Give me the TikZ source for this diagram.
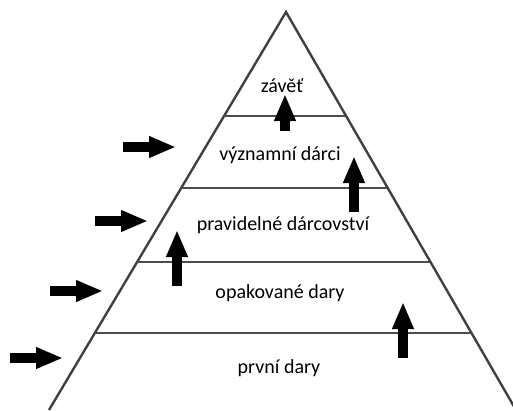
\documentclass[tikz,border=0pt]{standalone}
\usepackage{fontspec}
\setmainfont{Carlito}
\usetikzlibrary{arrows.meta,calc,positioning}

\tikzset{
    edgeline/.style   = {draw=black!75, line width=2.4pt},
    levelline/.style  = {draw=black!70, line width=2pt},
    blockarrow/.style = {draw=black, line width=10pt, -{Triangle[length=27pt,width=20pt]}},
    level/.style      = {font=\fontsize{20}{24}\selectfont, inner sep=0pt}
}

\begin{document}
\begin{tikzpicture}[x=1pt, y=-1pt]
    \useasboundingbox (0,0) rectangle (513,410);

    \coordinate (apex)  at (286,12);
    \coordinate (left)  at (49,410);
    \coordinate (right) at (516,410);

    \draw[edgeline] (left) -- (apex) -- (right);

    % levels
    \foreach \t/\name in {0.262/a, 0.441/b, 0.628/c, 0.806/d} {
        \coordinate (l\name) at ($(apex)!\t!(left)$);
        \coordinate (r\name) at ($(apex)!\t!(right)$);
        \draw[levelline] (l\name) -- (r\name);
    }

    \node[level] (zavet)       at (282,86)  {závěť};
    \node[level] (vyznamni)    at (280,155) {významní dárci};
    \node[level] (pravidelne)  at (283,225) {pravidelné dárcovství};
    \node[level] (opakovane)   at (280,293) {opakované dary};
    \node[level] (prvni)       at (279,368) {první dary};

    % arrows up
    \coordinate (ua1) at (285,131); \coordinate (ub1) at (285,94);
    \coordinate (ua2) at (354,212); \coordinate (ub2) at (354,156);
    \coordinate (ua3) at (177,286); \coordinate (ub3) at (177,230);
    \coordinate (ua4) at (403,358); \coordinate (ub4) at (403,302);
    \foreach \i in {1,...,4}
        \draw[blockarrow] (ua\i) -- (ub\i);

    % arrows in from the left
    \coordinate (sa1) at (123,147); \coordinate (sb1) at (176,147);
    \coordinate (sa2) at (95,221);  \coordinate (sb2) at (148,221);
    \coordinate (sa3) at (50,291);  \coordinate (sb3) at (103,291);
    \coordinate (sa4) at (10,358);  \coordinate (sb4) at (63,358);
    \foreach \i in {1,...,4}
        \draw[blockarrow] (sa\i) -- (sb\i);
\end{tikzpicture}
\end{document}
